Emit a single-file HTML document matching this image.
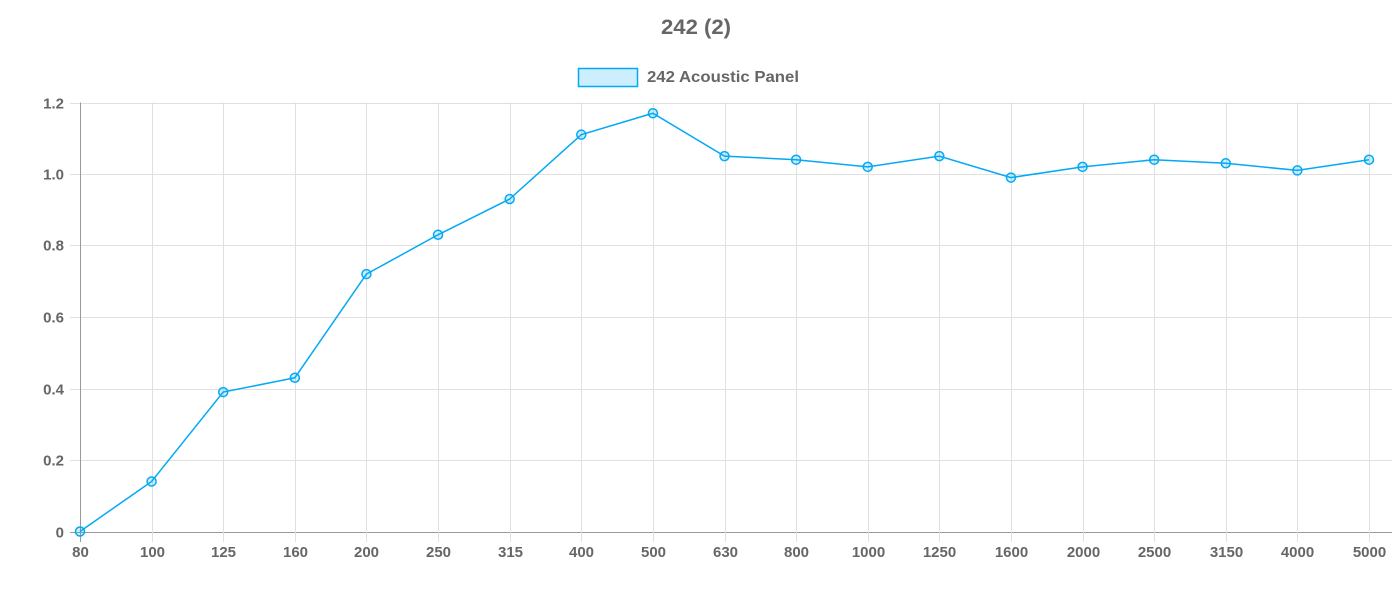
<!DOCTYPE html>
<html><head><meta charset="utf-8"><style>
body{margin:0;background:#fff;width:1392px;height:600px;overflow:hidden}
text{font-family:"Liberation Sans",Arial,sans-serif;fill:#666;font-weight:bold}
</style></head><body>
<svg id="chart" width="1392" height="600" xmlns="http://www.w3.org/2000/svg">
<text x="661" y="34" font-size="21" textLength="70" lengthAdjust="spacingAndGlyphs">242 (2)</text>
<g>
<rect x="578.5" y="68.5" width="59" height="18" fill="rgba(3,169,244,0.2)" stroke="#03a9f4" stroke-width="1.5"/>
<text x="647" y="82" font-size="16" textLength="152" lengthAdjust="spacingAndGlyphs">242 Acoustic Panel</text>
</g>
<g id="grid"></g><g id="series"></g>
</svg>
<script>
const categories=["80","100","125","160","200","250","315","400","500","630","800","1000","1250","1600","2000","2500","3150","4000","5000"];
const values=[0,0.14,0.39,0.43,0.72,0.83,0.93,1.11,1.17,1.05,1.04,1.02,1.05,0.99,1.02,1.04,1.03,1.01,1.04];
const yTicks=[0,0.2,0.4,0.6,0.8,1.0,1.2];
const yTickLabels=["0","0.2","0.4","0.6","0.8","1.0","1.2"];
const NS="http://www.w3.org/2000/svg";
const X0=80,X1=1369,Y0=531.5,Y1=102.5,R=1392;
const xs=i=>X0+(X1-X0)*i/(categories.length-1);
const ys=v=>Y0+(Y1-Y0)*v/1.2;
const g=document.getElementById('grid'),s=document.getElementById('series');
function mk(t,a,p){const e=document.createElementNS(NS,t);for(const k in a)e.setAttribute(k,a[k]);p.appendChild(e);return e;}
yTicks.forEach((v,i)=>{const y=Math.round(ys(v))+0.5;
const l=mk('line',{x1:70,x2:R,y1:y,y2:y,stroke:i==0?'#999':'#e0e0e0','stroke-width':1},g);


const t=mk('text',{x:64,y:y+5,'text-anchor':'end','font-size':15},g);t.textContent=yTickLabels[i];

});
categories.forEach((c,i)=>{const x=Math.round(xs(i))+0.5;
const l=mk('line',{x1:x,x2:x,y1:Y1,y2:542,stroke:i==0?'#999':'#e0e0e0','stroke-width':1},g);


const t=mk('text',{x:x,y:557,'text-anchor':'middle','font-size':15},g);t.textContent=c;

});
const pl=mk('polyline',{points:values.map((v,i)=>xs(i)+','+ys(v)).join(' '),fill:'none',stroke:'#03a9f4','stroke-width':1.5},s);


values.forEach((v,i)=>{const c=mk('circle',{cx:xs(i),cy:ys(v),r:4.5,fill:'rgba(3,169,244,0.2)',stroke:'#03a9f4','stroke-width':1.5},s);

});
</script>
</body></html>
